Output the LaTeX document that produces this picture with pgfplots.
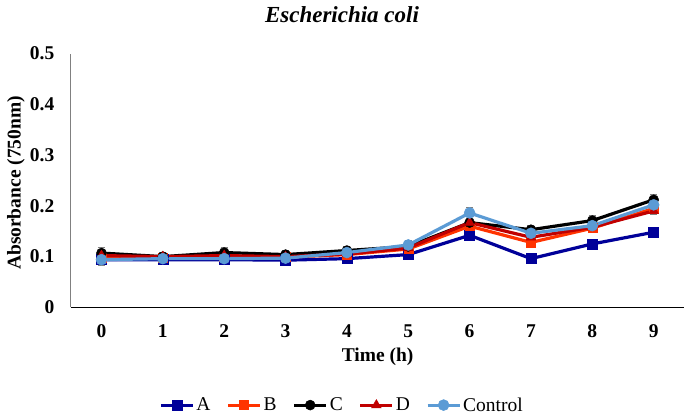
\documentclass[border=0pt]{standalone}
\usepackage{pgfplots}
\pgfplotsset{compat=1.18}
\usepackage{pgfplotstable}
\usepackage{fontspec}
\setmainfont{Liberation Serif}
\definecolor{cA}{RGB}{0,0,153}
\definecolor{cB}{RGB}{255,51,0}
\definecolor{cC}{RGB}{0,0,0}
\definecolor{cD}{RGB}{192,0,0}
\definecolor{cE}{RGB}{91,155,213}
\pgfplotstableread{
x y e
0 0.094 0.004
1 0.094 0.003
2 0.094 0.003
3 0.093 0.003
4 0.096 0.003
5 0.104 0.004
6 0.142 0.005
7 0.096 0.004
8 0.125 0.004
9 0.148 0.004
}\dA
\pgfplotstableread{
x y e
0 0.098 0.006
1 0.098 0.005
2 0.099 0.006
3 0.099 0.005
4 0.104 0.006
5 0.115 0.006
6 0.160 0.008
7 0.128 0.010
8 0.156 0.006
9 0.195 0.008
}\dB
\pgfplotstableread{
x y e
0 0.107 0.012
1 0.100 0.008
2 0.108 0.010
3 0.104 0.009
4 0.112 0.009
5 0.120 0.008
6 0.167 0.009
7 0.153 0.009
8 0.171 0.010
9 0.212 0.011
}\dC
\pgfplotstableread{
x y e
0 0.102 0.007
1 0.100 0.005
2 0.102 0.006
3 0.100 0.005
4 0.105 0.006
5 0.117 0.006
6 0.167 0.008
7 0.138 0.008
8 0.158 0.007
9 0.190 0.007
}\dD
\pgfplotstableread{
x y e
0 0.094 0.011
1 0.096 0.009
2 0.096 0.009
3 0.097 0.008
4 0.108 0.009
5 0.123 0.009
6 0.186 0.011
7 0.146 0.009
8 0.161 0.009
9 0.202 0.010
}\dE
\begin{document}
\begin{tikzpicture}
\begin{axis}[
  width=614pt, height=254pt, scale only axis,
  xmin=-0.5, xmax=9.5, ymin=0, ymax=0.5,
  axis lines=left,
  x axis line style={-, black, line width=1.3pt},
  y axis line style={-, gray, line width=0.9pt},
  xtick={0,1,2,3,4,5,6,7,8,9},
  xticklabels={0,1,2,3,4,5,6,7,8,9},
  ytick={0,0.1,0.2,0.3,0.4,0.5},
  yticklabels={0,0.1,0.2,0.3,0.4,0.5},
  major tick length=0pt,
  /pgf/number format/assume math mode=true,
  ticklabel style={font=\fontsize{19.5}{19.5}\selectfont\bfseries},
  yticklabel style={xshift=-13pt},
  xticklabel style={yshift=-14pt},
  ylabel={Absorbance (750nm)},
  ylabel style={at={(axis description cs:-0.0896,0.49)}, anchor=center, inner sep=7pt, font=\fontsize{19.5}{19.5}\selectfont\bfseries},
  xlabel={Time (h)},
  xlabel style={at={(axis description cs:0.5,-0.193)}, anchor=center, font=\fontsize{19.5}{19.5}\selectfont\bfseries},
  title={Escherichia coli},
  title style={at={(axis description cs:0.442,1.128)}, anchor=center, inner ysep=7pt, font=\fontsize{23}{23}\selectfont\bfseries\itshape},
  legend columns=5,
  legend style={at={(axis description cs:0.442,-0.385)}, anchor=center, draw=none, fill=none,
    font=\fontsize{19.5}{19.5}\selectfont, /tikz/every even column/.append style={column sep=14pt}},
  legend image code/.code={\draw[mark repeat=2, mark phase=2] plot coordinates {(0pt,0pt) (16pt,0pt) (32pt,0pt)};},
  every axis plot/.append style={line width=3.2pt},
  error bars/y dir=both, error bars/y explicit,
  error bars/error bar style={gray, line width=0.8pt},
  error bars/error mark options={rotate=90, gray, mark size=3.5pt, line width=0.8pt},
]
\addplot[cA, mark=square*, mark size=5pt, mark options={solid, line width=0.5pt}] table[x=x, y=y, y error=e] {\dA};
\addlegendentry{A}
\addplot[cB, mark=square*, mark size=4.5pt, mark options={solid, line width=0.5pt}] table[x=x, y=y, y error=e] {\dB};
\addlegendentry{B}
\addplot[cC, mark=*, mark size=5pt, mark options={solid, line width=0.5pt}] table[x=x, y=y, y error=e] {\dC};
\addlegendentry{C}
\addplot[cD, mark=triangle*, mark size=5.5pt, mark options={solid, line width=0.5pt}] table[x=x, y=y, y error=e] {\dD};
\addlegendentry{D}
\addplot[cE, mark=*, mark size=5.5pt, mark options={solid, line width=0.5pt}] table[x=x, y=y, y error=e] {\dE};
\addlegendentry{Control}
\end{axis}
\end{tikzpicture}
\end{document}
